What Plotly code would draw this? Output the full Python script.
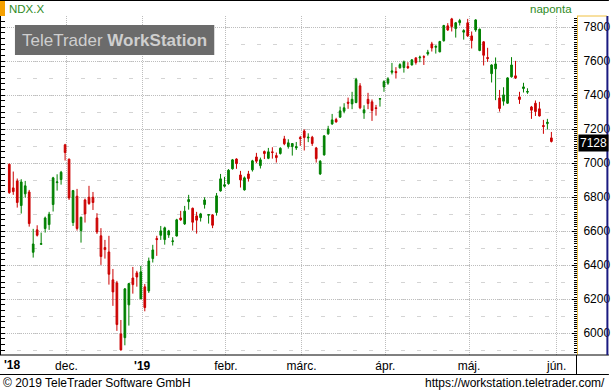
import pandas as pd
import plotly.graph_objects as go

# ---------------- data (NDX.X daily, 2018-11-12 .. 2019-05-31) ----------------
start_date = "2018-11-12"
end_date = "2019-05-31"
market_holidays = ["2018-11-22", "2018-12-05", "2018-12-25", "2019-01-01",
                   "2019-01-21", "2019-02-18", "2019-04-19", "2019-05-27"]

open_ = [6994, 6855, 6896, 6751, 6820, 6831, 6476, 6608, 6523, 6616,
         6639, 6757, 6886, 6904, 7108, 7024, 6651, 6806, 6604, 6784,
         6800, 6800, 6678, 6573, 6504, 6478, 6314, 6296, 5996, 5974,
         6167, 6325, 6355, 6202, 6273, 6249, 6439, 6557, 6576, 6551,
         6578, 6539, 6572, 6678, 6643, 6774, 6735, 6690, 6680, 6757,
         6694, 6696, 6710, 6837, 6865, 6880, 6967, 7025, 6931, 6843,
         6937, 6961, 7037, 6986, 7069, 7029, 7067, 7045, 7057, 7143,
         7098, 7098, 7090, 7151, 7190, 7149, 7153, 7090, 6937, 7049,
         7173, 7231, 7257, 7271, 7306, 7359, 7349, 7357, 7455, 7296,
         7376, 7361, 7326, 7377, 7449, 7471, 7535, 7539, 7561, 7563,
         7569, 7578, 7620, 7620, 7627, 7643, 7702, 7682, 7655, 7720,
         7808, 7849, 7792, 7827, 7771, 7826, 7749, 7784, 7663, 7714,
         7622, 7527, 7555, 7384, 7365, 7353, 7508, 7514, 7390, 7439,
         7418, 7331, 7353, 7320, 7222, 7233, 7149]
high = [6998, 6951, 6910, 6906, 6896, 6843, 6614, 6635, 6592, 6686,
        6714, 6920, 6935, 6955, 7114, 7027, 6843, 6849, 6686, 6792,
        6867, 6831, 6706, 6618, 6549, 6573, 6378, 6308, 6078, 6265,
        6296, 6390, 6367, 6396, 6290, 6445, 6520, 6573, 6631, 6627,
        6608, 6565, 6673, 6720, 6749, 6814, 6739, 6714, 6708, 6800,
        6700, 6700, 6825, 6937, 6920, 6965, 7025, 7029, 6955, 6922,
        6955, 7020, 7061, 7033, 7075, 7090, 7094, 7063, 7094, 7161,
        7141, 7118, 7125, 7161, 7200, 7176, 7161, 7096, 7018, 7165,
        7220, 7290, 7267, 7333, 7353, 7386, 7420, 7502, 7471, 7341,
        7414, 7375, 7343, 7382, 7488, 7506, 7590, 7565, 7588, 7604,
        7594, 7612, 7620, 7633, 7635, 7667, 7714, 7692, 7720, 7814,
        7824, 7855, 7831, 7849, 7788, 7849, 7775, 7847, 7792, 7718,
        7679, 7582, 7622, 7431, 7447, 7506, 7624, 7602, 7420, 7473,
        7441, 7337, 7369, 7361, 7255, 7261, 7184]
low = [6820, 6814, 6739, 6704, 6798, 6627, 6445, 6569, 6521, 6592,
       6608, 6716, 6839, 6874, 7016, 6784, 6631, 6604, 6533, 6651,
       6755, 6725, 6584, 6402, 6439, 6286, 6161, 6014, 5898, 5929,
       6045, 6233, 6274, 6202, 6129, 6237, 6416, 6455, 6549, 6521,
       6561, 6516, 6569, 6661, 6637, 6727, 6604, 6586, 6657, 6733,
       6645, 6618, 6692, 6833, 6857, 6874, 6963, 6967, 6857, 6839,
       6892, 6951, 7000, 6969, 7025, 7024, 7027, 7004, 7051, 7106,
       7086, 7045, 7078, 7102, 7075, 7124, 7102, 7004, 6931, 7045,
       7167, 7226, 7239, 7267, 7294, 7320, 7318, 7353, 7318, 7261,
       7318, 7249, 7280, 7333, 7420, 7461, 7522, 7498, 7557, 7533,
       7555, 7575, 7580, 7594, 7578, 7633, 7657, 7645, 7653, 7716,
       7778, 7775, 7739, 7810, 7727, 7743, 7675, 7773, 7659, 7575,
       7596, 7475, 7371, 7304, 7339, 7349, 7504, 7496, 7349, 7416,
       7408, 7261, 7278, 7275, 7173, 7200, 7122]
close = [6827, 6833, 6769, 6890, 6867, 6645, 6525, 6576, 6527, 6678,
         6700, 6914, 6890, 6947, 7063, 6796, 6839, 6616, 6682, 6702,
         6763, 6769, 6596, 6451, 6492, 6347, 6243, 6051, 5902, 6261,
         6292, 6286, 6331, 6361, 6151, 6425, 6490, 6551, 6602, 6620,
         6602, 6543, 6667, 6667, 6718, 6786, 6653, 6665, 6702, 6784,
         6698, 6635, 6808, 6908, 6873, 6959, 7020, 6998, 6902, 6914,
         6910, 7014, 7012, 7020, 7057, 7067, 7063, 7033, 7088, 7114,
         7120, 7116, 7098, 7145, 7151, 7153, 7116, 7027, 7012, 7161,
         7202, 7255, 7243, 7308, 7326, 7353, 7376, 7492, 7326, 7314,
         7351, 7310, 7322, 7380, 7480, 7496, 7543, 7533, 7580, 7596,
         7561, 7608, 7592, 7624, 7624, 7653, 7678, 7688, 7716, 7810,
         7784, 7804, 7826, 7839, 7780, 7749, 7722, 7843, 7788, 7635,
         7616, 7578, 7584, 7322, 7402, 7502, 7578, 7502, 7375, 7449,
         7422, 7312, 7304, 7278, 7216, 7241, 7128]

month_labels = ["dec.", "<b>'19</b>", "febr.", "márc.", "ápr.", "máj.", "jún."]
y_ticks = [6000, 6200, 6400, 6600, 6800, 7000, 7200, 7400, 7600, 7800]
symbol = "NDX.X"
period = "naponta"
last_label = "7128"

# ---------------- build ----------------
dates = pd.bdate_range(start_date, end_date)
dates = dates[~dates.isin(pd.to_datetime(market_holidays))]
idx = list(range(len(dates)))

# first trading day of each month (Dec..May), then the slot after the last day (June)
month_keys = [d.strftime("%Y-%m") for d in dates]
month_starts = [i for i in idx if i == 0 or month_keys[i] != month_keys[i - 1]][1:]
month_starts.append(len(dates))
grid_x = [m + 0.33 for m in month_starts]

W, H = 611, 392
L, R, T, B = 1, 579, 16, 355


def px(x):
    return (x - L) / (R - L)


def py(y):
    return (B - y) / (B - T)


RED = "#cc0000"
GREEN = "#008000"
DOT = "1px,1px"
GRID = "#bdbdbd"

fig = go.Figure()
fig.add_trace(go.Candlestick(
    x=idx, open=open_, high=high, low=low, close=close,
    increasing=dict(line=dict(color=GREEN, width=1), fillcolor=GREEN),
    decreasing=dict(line=dict(color=RED, width=1), fillcolor=RED),
    whiskerwidth=0, hoverinfo="skip", yaxis="y",
))
# invisible helper traces for extra tick axes
fig.add_trace(go.Scatter(x=[idx[0]], y=[close[0]], yaxis="y2", mode="markers",
                         marker=dict(opacity=0), hoverinfo="skip"))
fig.add_trace(go.Scatter(x=[idx[0]], y=[close[0]], yaxis="y3", mode="markers",
                         marker=dict(opacity=0), hoverinfo="skip"))

yr = [5872, 7866]
fig.update_layout(
    width=W, height=H,
    margin=dict(l=L, r=W - R, t=T, b=H - B, pad=0),
    paper_bgcolor="white", plot_bgcolor="white",
    showlegend=False, boxgap=0.4,
    font=dict(family="Liberation Sans, Arial, sans-serif", size=12, color="black"),
    xaxis=dict(
        range=[(L - 9.3) / 4, (R - 9.3) / 4],
        rangeslider=dict(visible=False),
        tickmode="array", tickvals=grid_x, ticktext=month_labels,
        showgrid=True, gridcolor=GRID, griddash=DOT, gridwidth=1,
        ticks="", showline=False, zeroline=False,
        tickfont=dict(size=12), ticklabelstandoff=2,
    ),
    yaxis=dict(
        side="right", range=yr, tickmode="array", tickvals=y_ticks,
        showgrid=True, gridcolor=GRID, griddash=DOT, gridwidth=1,
        ticks="inside", ticklen=5, tickcolor="black",
        showline=True, linecolor="#f0c040", linewidth=1,
        zeroline=False, tickfont=dict(size=12), ticklabelstandoff=3,
        minor=dict(dtick=100, tick0=0, showgrid=True, gridcolor="#d4d4d4",
                   griddash="4px,12px", ticks=""),
    ),
    yaxis2=dict(
        side="right", overlaying="y", matches="y", range=yr,
        showgrid=False, zeroline=False, showticklabels=False,
        tick0=0, dtick=12.5, ticks="inside", ticklen=3, tickcolor="black",
    ),
    yaxis3=dict(
        side="left", overlaying="y", matches="y", range=yr,
        showgrid=False, zeroline=False, showticklabels=False,
        tick0=0, dtick=100 / 3, ticks="inside", ticklen=4, tickcolor="black",
        showline=True, linecolor="black", linewidth=1,
    ),
)

shapes = []


def hline(y, x0, x1, color="black", width=1):
    shapes.append(dict(type="line", xref="paper", yref="paper",
                       x0=px(x0), x1=px(x1), y0=py(y), y1=py(y),
                       line=dict(color=color, width=width), layer="above"))


def vline(x, y0, y1, color="black", width=1):
    shapes.append(dict(type="line", xref="paper", yref="paper",
                       x0=px(x), x1=px(x), y0=py(y0), y1=py(y1),
                       line=dict(color=color, width=width), layer="above"))


hline(0.5, 0, W)                       # top border
hline(355, 0, W)                       # x axis line
hline(374.5, 0, W)                     # bottom of date strip
vline(578.5, 355, 374.5)               # corner separator
hline(16, 579, 609, color="#f0c040")   # right strip top
vline(609.5, 16, 355, color="#1a1a80", width=2)  # right strip border
shapes.append(dict(type="rect", xref="paper", yref="paper",
                   x0=px(0), x1=px(5), y0=py(1), y1=py(16),
                   fillcolor="#f5a000", line=dict(width=0), layer="above"))
shapes.append(dict(type="rect", xref="paper", yref="paper",
                   x0=px(15), x1=px(215), y0=py(25), y1=py(55),
                   fillcolor="#6b6b6b", line=dict(width=0), layer="above"))
fig.update_layout(shapes=shapes)

ann = [
    dict(text=symbol, x=px(7), y=py(9), xanchor="left", yanchor="middle",
         font=dict(size=11.5, color="#2e8b1e")),
    dict(text=period, x=px(576), y=py(9), xanchor="right", yanchor="middle",
         font=dict(size=11.5, color="#2e8b1e")),
    dict(text="TeleTrader <b>WorkStation</b>", x=px(115), y=py(40),
         xanchor="center", yanchor="middle",
         font=dict(size=17, color="#cfcfcf")),
    dict(text="<b>'18</b>", x=px(2), y=py(365), xanchor="left", yanchor="middle",
         font=dict(size=12)),
    dict(text="© 2019 TeleTrader Software GmbH", x=px(1), y=py(383),
         xanchor="left", yanchor="middle", font=dict(size=12)),
    dict(text="https://workstation.teletrader.com/", x=px(609), y=py(383),
         xanchor="right", yanchor="middle", font=dict(size=12)),
    dict(text=last_label, xref="paper", yref="y", x=px(580), y=close[-1],
         xanchor="left", yanchor="middle", yshift=-2,
         bgcolor="black", font=dict(size=12, color="white"), borderpad=1),
]
for a in ann:
    a.setdefault("xref", "paper")
    a.setdefault("yref", "paper")
    a["showarrow"] = False
fig.update_layout(annotations=ann)

fig.write_html("out.html",
               config={"displayModeBar": False, "staticPlot": True},
               post_script="document.body.style.margin='0';"
                           "document.body.style.overflow='hidden';")
